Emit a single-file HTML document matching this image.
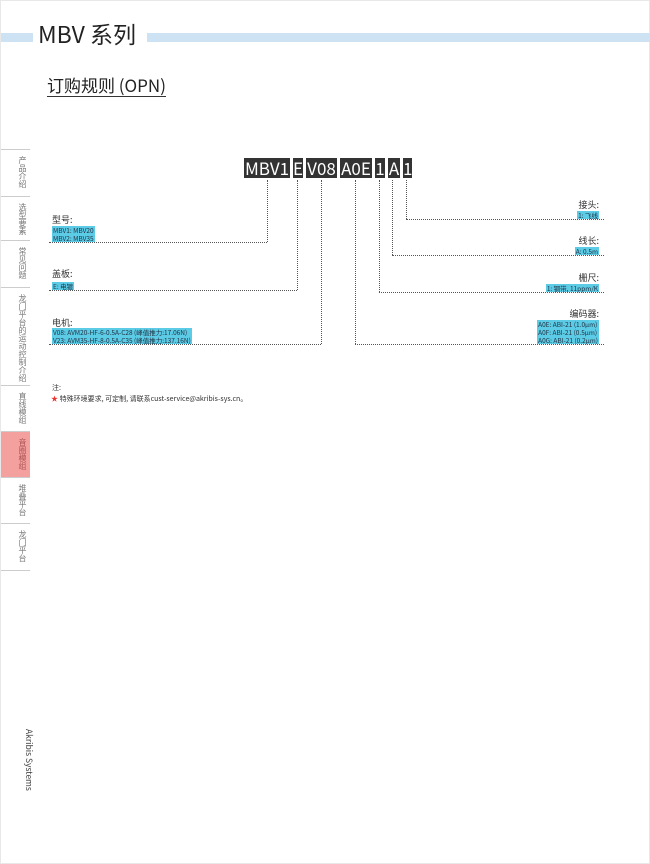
<!DOCTYPE html>
<html><head><meta charset="utf-8"><style>
*{margin:0;padding:0;box-sizing:border-box}
body{width:650px;height:864px;position:relative;background:#fff;font-family:"Noto Sans CJK SC","Liberation Sans",sans-serif;overflow:hidden;border:1px solid #e8e8e8}
.a{position:absolute}
.band{position:absolute;top:32px;height:9px;background:#cde3f4}
.code{position:absolute;top:157px;height:20px;background:#333;color:#fff;font-size:17px;line-height:20px;text-align:center;overflow:hidden}
.v{position:absolute;border-left:1px dotted #555;width:0}
.h{position:absolute;border-top:1px dotted #555;height:0}
.lab{position:absolute;font-size:9px;color:#333;white-space:nowrap;line-height:11px}
.box{position:absolute;background:#5ccbe6;color:#234;font-size:6.5px;line-height:8px;padding:0 1px;white-space:nowrap}
.side{position:absolute;left:0;width:29px;border-bottom:1px solid #ccc;font-size:8px;color:#777;line-height:9px;display:flex;justify-content:flex-end;padding-top:6px;padding-right:3px}
.side span{writing-mode:vertical-rl}
</style></head><body>
<div class="band" style="left:0;width:32px"></div>
<div class="band" style="left:146px;width:504px"></div>
<div class="a" style="left:37px;top:16px;font-size:23px;color:#222;line-height:32px">MBV 系列</div>
<div class="a" style="left:46px;top:72px;font-size:17px;color:#222;line-height:23px;border-bottom:1px solid #333">订购规则 (OPN)</div>

<div class="a" style="left:0;top:148px;width:29px;border-top:1px solid #ccc"></div>
<div class="side" style="top:149px;height:47px"><span>产品介绍</span></div>
<div class="side" style="top:196px;height:44px"><span>选型要素</span></div>
<div class="side" style="top:240px;height:47px"><span>常见问题</span></div>
<div class="side" style="top:287px;height:98px"><span>龙门平台的运动控制介绍</span></div>
<div class="side" style="top:385px;height:46px"><span>直线模组</span></div>
<div class="side" style="top:431px;height:46px;background:#f4a09e;color:#a55"><span>音圈模组</span></div>
<div class="side" style="top:477px;height:46px"><span>堆叠平台</span></div>
<div class="side" style="top:523px;height:47px"><span>龙门平台</span></div>
<div class="a" style="left:22px;top:728px;writing-mode:vertical-rl;font-size:8.5px;color:#444">Akribis Systems</div>

<div class="code" style="left:243px;width:46px">MBV1</div>
<div class="code" style="left:292px;width:10px">E</div>
<div class="code" style="left:305px;width:31px">V08</div>
<div class="code" style="left:339px;width:32px">A0E</div>
<div class="code" style="left:374px;width:10px">1</div>
<div class="code" style="left:387px;width:12px">A</div>
<div class="code" style="left:402px;width:9px">1</div>

<div class="v" style="left:266px;top:179px;height:62px"></div>
<div class="h" style="left:48px;top:241px;width:218px"></div>
<div class="v" style="left:296px;top:179px;height:110px"></div>
<div class="h" style="left:48px;top:289px;width:248px"></div>
<div class="v" style="left:320px;top:179px;height:164px"></div>
<div class="h" style="left:48px;top:343px;width:272px"></div>
<div class="v" style="left:405px;top:179px;height:39px"></div>
<div class="h" style="left:405px;top:218px;width:198px"></div>
<div class="v" style="left:391px;top:179px;height:75px"></div>
<div class="h" style="left:391px;top:254px;width:212px"></div>
<div class="v" style="left:378px;top:179px;height:112px"></div>
<div class="h" style="left:378px;top:291px;width:225px"></div>
<div class="v" style="left:354px;top:179px;height:164px"></div>
<div class="h" style="left:354px;top:343px;width:249px"></div>

<div class="lab" style="left:51px;top:213px">型号:</div>
<div class="box" style="left:51px;top:225px">MBV1: MBV20<br>MBV2: MBV35</div>
<div class="lab" style="left:51px;top:267px">盖板:</div>
<div class="box" style="left:51px;top:281px">E: 电镀</div>
<div class="lab" style="left:51px;top:316px">电机:</div>
<div class="box" style="left:51px;top:327px">V08: AVM20-HF-6-0.5A-C28 (峰值推力:17.06N)<br>V23: AVM35-HF-8-0.5A-C35 (峰值推力:137.16N)</div>

<div class="lab" style="right:50px;top:198px">接头:</div>
<div class="box" style="right:50px;top:210px">1: 飞线</div>
<div class="lab" style="right:50px;top:234px">线长:</div>
<div class="box" style="right:50px;top:246px">A: 0.5m</div>
<div class="lab" style="right:50px;top:271px">栅尺:</div>
<div class="box" style="right:50px;top:283px">1: 钢带, 11ppm/K</div>
<div class="lab" style="right:50px;top:307px">编码器:</div>
<div class="box" style="right:50px;top:319px">A0E: ABI-21 (1.0μm)<br>A0F: ABI-21 (0.5μm)<br>A0G: ABI-21 (0.2μm)</div>

<div class="lab" style="left:51px;top:382px;font-size:7px">注:</div>
<div class="lab" style="left:50px;top:393px;font-size:7px"><span style="color:#e33">★</span> 特殊环境要求, 可定制, 请联系cust-service@akribis-sys.cn。</div>
</body></html>
